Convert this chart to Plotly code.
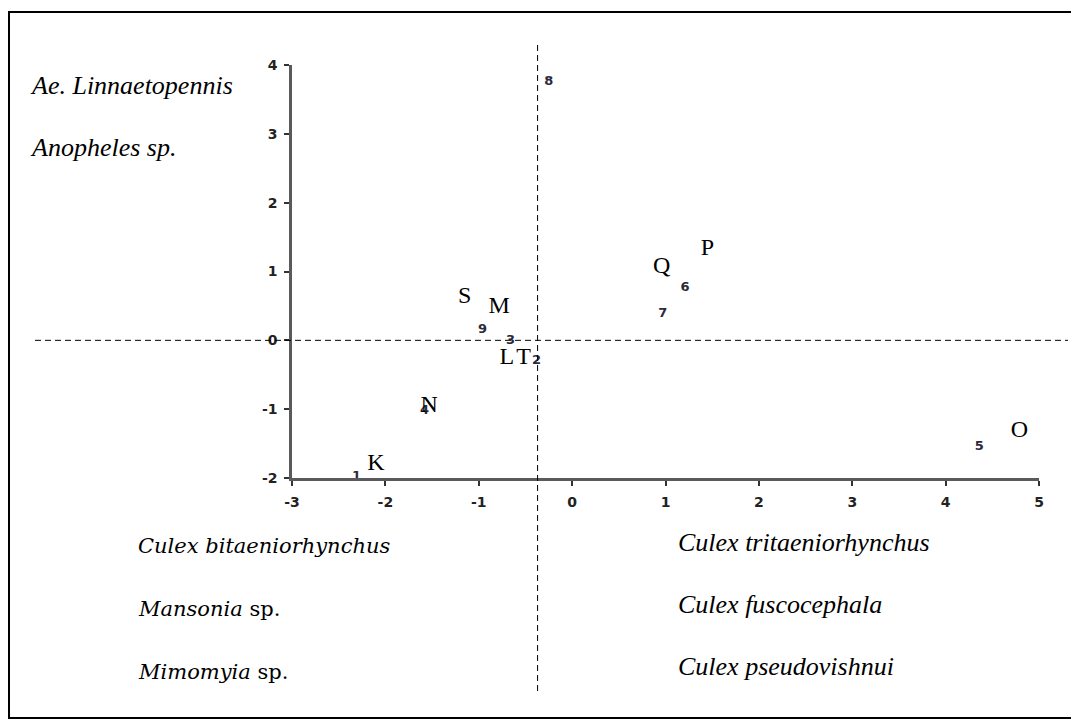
import plotly.graph_objects as go

# Point numbers (object scores)
point_labels = ["1", "2", "3", "4", "5", "6", "7", "8", "9"]
point_x = [-2.31, -0.38, -0.66, -1.58, 4.36, 1.21, 0.97, -0.25, -0.96]
point_y = [-1.98, -0.30, -0.01, -1.02, -1.55, 0.76, 0.38, 3.75, 0.15]

# Site letters placed near the points
letter_labels = ["K", "L", "M", "N", "O", "P", "Q", "S", "T"]
letter_x = [-2.10, -0.70, -0.78, -1.53, 4.79, 1.45, 0.96, -1.15, -0.52]
letter_y = [-1.80, -0.25, 0.48, -0.96, -1.31, 1.33, 1.06, 0.63, -0.26]

x_ticks = [-3, -2, -1, 0, 1, 2, 3, 4, 5]
y_ticks = [-2, -1, 0, 1, 2, 3, 4]
x_range = [-3, 5]
y_range = [-2, 4]

# Reference (quadrant) lines
vline_x = -0.37
hline_y = 0

top_left_species = ["<i>Ae. Linnaetopennis</i>", "<i>Anopheles sp.</i>"]
bottom_left_species = ["<i>Culex bitaeniorhynchus</i>", "<i>Mansonia</i> sp.", "<i>Mimomyia</i> sp."]
bottom_right_species = ["<i>Culex tritaeniorhynchus</i>", "<i>Culex fuscocephala</i>", "<i>Culex pseudovishnui</i>"]

# page body has an 8px margin, so the figure is drawn 8px smaller and offset
OFF = 8
W, H = 1071, 720
L, R, T, B = 284, 40, 57, 250
PW = W - L - R
PH = H - T - B


def px(xp):
    return (xp - OFF - L) / PW


def py(yp):
    return (H - B - (yp - OFF)) / PH


fig = go.Figure()

fig.add_trace(go.Scatter(
    x=point_x, y=point_y, text=point_labels, mode="text",
    textfont=dict(family="DejaVu Sans", size=13, color="#2a2a3a", weight="bold"),
    textposition="middle center", hoverinfo="skip", showlegend=False, cliponaxis=False,
))
fig.add_trace(go.Scatter(
    x=letter_x, y=letter_y, text=letter_labels, mode="text",
    textfont=dict(family="Liberation Serif, Times New Roman", size=24, color="#000000"),
    textposition="middle center", hoverinfo="skip", showlegend=False, cliponaxis=False,
))

shapes = [
    dict(type="line", xref="x", yref="paper", x0=vline_x, x1=vline_x,
         y0=py(45), y1=py(692), line=dict(color="black", width=1, dash="6px,4px")),
    dict(type="line", xref="paper", yref="y", x0=px(35), x1=px(1068),
         y0=hline_y, y1=hline_y, line=dict(color="black", width=1, dash="6px,4px")),
    dict(type="rect", xref="paper", yref="paper", x0=px(9), x1=px(1075),
         y0=py(718), y1=py(12), line=dict(color="black", width=2)),
]

annotations = []
serif_it = dict(family="Liberation Serif, Times New Roman", size=26, color="#000000")
cambria_like = dict(family="DejaVu Serif", size=21, color="#000000")
for i, t in enumerate(top_left_species):
    annotations.append(dict(text=t, xref="paper", yref="paper", x=px(28), y=py(86 + 61 * i),
                            xanchor="left", yanchor="middle", showarrow=False, font=serif_it))
for i, t in enumerate(bottom_left_species):
    annotations.append(dict(text=t, xref="paper", yref="paper", x=px(136), y=py(546 + 63 * i),
                            xanchor="left", yanchor="middle", showarrow=False, font=cambria_like))
for i, t in enumerate(bottom_right_species):
    annotations.append(dict(text=t, xref="paper", yref="paper", x=px(676), y=py(542 + 62 * i),
                            xanchor="left", yanchor="middle", showarrow=False, font=serif_it))

axis_common = dict(
    showline=True, linecolor="#5a5a5a", linewidth=2.5, showgrid=False, zeroline=False,
    ticks="outside", ticklen=5, tickwidth=2, tickcolor="#333333",
    tickfont=dict(family="DejaVu Sans", size=14, color="#222222", weight="bold"),
)

fig.update_layout(
    width=W, height=H, autosize=False,
    margin=dict(l=L, r=R, t=T, b=B),
    paper_bgcolor="white", plot_bgcolor="white",
    xaxis=dict(range=x_range, tickvals=x_ticks, ticktext=[str(v) for v in x_ticks],
               ticklabelstandoff=4, **axis_common),
    yaxis=dict(range=y_range, tickvals=y_ticks, ticktext=[str(v) for v in y_ticks],
               ticklabelstandoff=4, **axis_common),
    shapes=shapes, annotations=annotations, showlegend=False,
)

fig.write_html("out.html")
